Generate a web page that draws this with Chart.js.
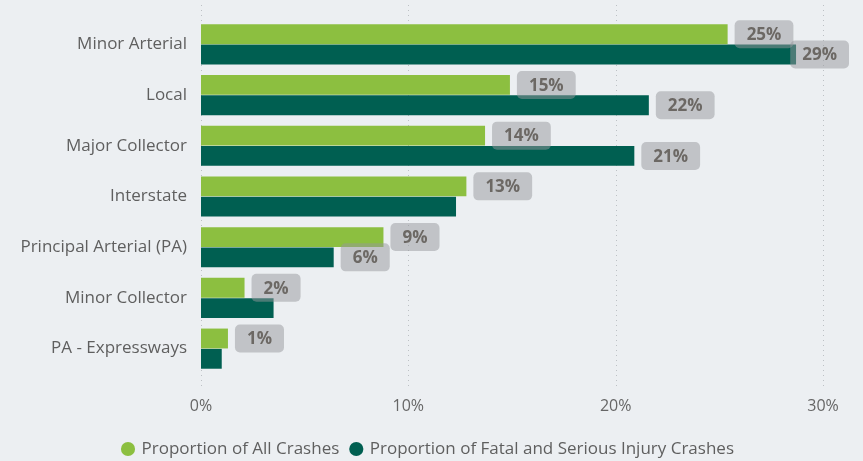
<!DOCTYPE html>
<html>
<head>
<meta charset="utf-8">
<script src="https://cdn.jsdelivr.net/npm/chart.js@4.4.1/dist/chart.umd.min.js"></script>
<style>
  html, body { margin: 0; padding: 0; background: #ECEFF2; }
  #wrap { position: relative; width: 863px; height: 461px; }
</style>
</head>
<body>
<div id="wrap"><canvas id="c" width="863" height="461"></canvas></div>
<script>
// ---- data ----
const categories = ["Minor Arterial", "Local", "Major Collector", "Interstate", "Principal Arterial (PA)", "Minor Collector", "PA - Expressways"];
const seriesNames = ["Proportion of All Crashes", "Proportion of Fatal and Serious Injury Crashes"];
const allCrashes = [25.4, 14.9, 13.7, 12.8, 8.8, 2.1, 1.3];
const fatalSerious = [28.7, 21.6, 20.9, 12.3, 6.4, 3.5, 1.0];
const allLabels = ["25%", "15%", "14%", "13%", "9%", "2%", "1%"];
const fatalLabels = ["29%", "22%", "21%", null, "6%", null, null];
const xTicks = [0, 10, 20, 30];

const FONT = "'Open Sans', 'Noto Sans', sans-serif";

const gridPlugin = {
  id: 'dotGrid',
  beforeDatasetsDraw(chart) {
    const ctx = chart.ctx, xs = chart.scales.x;
    ctx.save();
    ctx.strokeStyle = '#BCC0C4';
    ctx.lineWidth = 1;
    ctx.setLineDash([1, 4]);
    xTicks.forEach(v => {
      const px = Math.round(xs.getPixelForValue(v)) + 0.5;
      ctx.beginPath();
      ctx.moveTo(px, 5);
      ctx.lineTo(px, 386);
      ctx.stroke();
    });
    ctx.restore();
  }
};

const legendShift = {
  id: 'legendShift',
  afterLayout(chart) {
    const lg = chart.legend;
    if (lg) { lg.top += 6.5; lg.bottom += 6.5; lg.left += 17; lg.right += 17; }
  }
};

const labelPlugin = {
  id: 'boxLabels',
  afterDatasetsDraw(chart) {
    const ctx = chart.ctx;
    const sets = [allLabels, fatalLabels];
    ctx.save();
    ctx.font = "bold 17px " + FONT;
    ctx.textAlign = 'center';
    ctx.textBaseline = 'middle';
    sets.forEach((labels, di) => {
      const meta = chart.getDatasetMeta(di);
      meta.data.forEach((bar, j) => {
        const t = labels[j];
        if (!t) return;
        const tw = ctx.measureText(t).width;
        const w = tw + 24, h = 28;
        let bx = bar.x + 7;
        if (bx + w > chart.width - 14) bx = chart.width - 14 - w;
        const by = bar.y - h / 2;
        ctx.fillStyle = 'rgba(150,152,155,0.5)';
        ctx.beginPath();
        ctx.roundRect(bx, by, w, h, 5);
        ctx.fill();
        ctx.fillStyle = '#6C6864';
        ctx.fillText(t, bx + w / 2, bar.y + 1);
      });
    });
    ctx.restore();
  }
};

new Chart(document.getElementById('c'), {
  type: 'bar',
  data: {
    labels: categories,
    datasets: [
      { label: seriesNames[0], data: allCrashes, backgroundColor: '#8CBF40', categoryPercentage: 0.8, barPercentage: 0.98 },
      { label: seriesNames[1], data: fatalSerious, backgroundColor: '#005F51', categoryPercentage: 0.8, barPercentage: 0.98 }
    ]
  },
  options: {
    indexAxis: 'y',
    responsive: false,
    animation: false,
    layout: { padding: { top: 19, right: 40, left: 0, bottom: 0 } },
    scales: {
      x: {
        min: 0, max: 30,
        afterBuildTicks(scale) { scale.ticks = xTicks.map(v => ({ value: v })); },
        afterFit(scale) { scale.height = 461 - 372 - 41; },
        grid: { display: false, drawTicks: false },
        border: { display: false },
        ticks: {
          padding: 23,
          color: '#666666',
          font: { family: FONT, size: 16 },
          callback: v => v + '%'
        }
      },
      y: {
        afterFit(scale) { scale.width = 201; scale.paddingTop = 0; scale.paddingBottom = 0; },
        grid: { display: false, drawTicks: false },
        border: { display: false },
        ticks: {
          padding: 14,
          color: '#5F5F5F',
          font: { family: FONT, size: 17 }
        }
      }
    },
    plugins: {
      legend: {
        position: 'bottom',
        labels: {
          usePointStyle: true,
          pointStyle: 'circle',
          boxWidth: 10,
          boxHeight: 10,
          padding: 12,
          color: '#5F5F5F',
          font: { family: FONT, size: 17 }
        }
      },
      tooltip: { enabled: false }
    }
  },
  plugins: [gridPlugin, labelPlugin, legendShift]
});
</script>
</body>
</html>
